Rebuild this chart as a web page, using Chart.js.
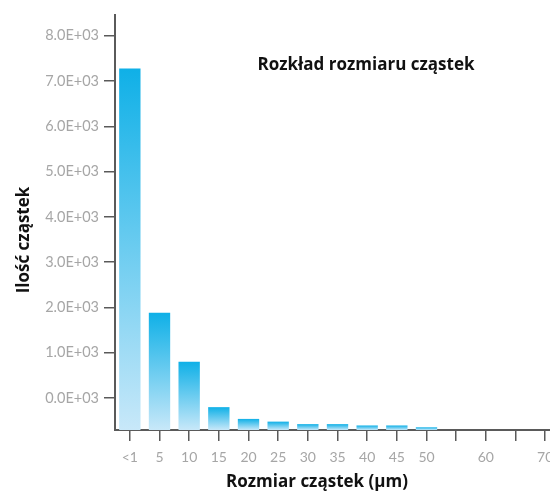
<!DOCTYPE html>
<html>
<head>
<meta charset="utf-8">
<script src="https://cdn.jsdelivr.net/npm/chart.js@4.4.1/dist/chart.umd.min.js"></script>
<style>
  html, body { margin: 0; padding: 0; background: #fff; overflow: hidden; }
  #wrap { position: relative; width: 550px; height: 493px; overflow: hidden; }
  #wrap canvas { position: absolute; left: 0; top: 0; }
</style>
</head>
<body>
<div id="wrap"><canvas id="chart" width="570" height="493"></canvas></div>
<script>
// dane
const categories = ['<1', '5', '10', '15', '20', '25', '30', '35', '40', '45', '50', '55', '60', '65', '70'];
const tickLabels = ['<1', '5', '10', '15', '20', '25', '30', '35', '40', '45', '50', '', '60', '', '70'];
const counts = [7280, 1880, 800, -205, -465, -525, -580, -580, -610, -610, -650, null, null, null, null];
const yTicks = [0, 1000, 2000, 3000, 4000, 5000, 6000, 7000, 8000];
const yMin = -710;
const yMax = 8460;

const chartTitle = 'Rozkład rozmiaru cząstek';
const xTitle = 'Rozmiar cząstek (µm)';
const yTitle = 'Ilość cząstek';

// gradient dla kazdego slupka osobno: ciemny u gory, jasny u dolu
function barGradient(ctx) {
    const chart = ctx.chart;
    const y = chart.scales.y;
    if (!chart.chartArea || !y || ctx.raw == null) return '#1ab0e6';
    const top = y.getPixelForValue(ctx.raw);
    const bottom = y.getPixelForValue(yMin);
    if (!isFinite(top) || bottom - top < 1) return '#1ab0e6';
    const g = chart.ctx.createLinearGradient(0, top, 0, bottom);
    g.addColorStop(0, '#0fb0e7');
    g.addColorStop(1, '#c8e8f9');
    return g;
}

// tytul wykresu i opisy osi rysowane recznie (pozycje jak na oryginale)
const titlesPlugin = {
    id: 'titles',
    afterDraw(chart) {
        const c = chart.ctx;
        c.save();
        c.font = 'bold 17px "Open Sans"';
        c.fillStyle = '#111';
        c.textAlign = 'center';
        c.textBaseline = 'middle';
        c.fillText(chartTitle, 366, 65);
        c.fillText(xTitle, 317, 482);
        c.translate(24, 240);
        c.rotate(-Math.PI / 2);
        c.fillText(yTitle, 0, 0);
        c.restore();
    }
};

new Chart(document.getElementById('chart'), {
    type: 'bar',
    data: {
        labels: categories,
        datasets: [{
            data: counts,
            base: yMin,
            backgroundColor: barGradient,
            borderWidth: 0,
            barPercentage: 0.72,
            categoryPercentage: 1.0
        }]
    },
    options: {
        responsive: false,
        animation: false,
        layout: { padding: { top: 15, left: 0, right: 10, bottom: 0 } },
        plugins: {
            legend: { display: false },
            tooltip: { enabled: false }
        },
        scales: {
            x: {
                offset: true,
                border: { display: true, color: '#5a5a5a', width: 2 },
                grid: { display: true, drawOnChartArea: false, offset: false, color: '#5a5a5a', lineWidth: 1.5, tickLength: 11 },
                ticks: {
                    autoSkip: false,
                    maxRotation: 0,
                    padding: 8,
                    color: '#a6a6a6',
                    font: { family: 'Lato', size: 14 },
                    callback: (v, i) => tickLabels[i]
                },
                afterFit: s => { s.height = 63; }
            },
            y: {
                min: yMin,
                max: yMax,
                afterBuildTicks: axis => { axis.ticks = yTicks.map(v => ({ value: v })); },
                border: { display: true, color: '#5a5a5a', width: 2 },
                grid: { display: true, drawOnChartArea: false, color: '#5a5a5a', lineWidth: 1.5, tickLength: 11 },
                ticks: {
                    padding: 5,
                    color: '#a6a6a6',
                    font: { family: 'Lato', size: 14.5 },
                    callback: v => (v / 1000).toFixed(1) + 'E+03'
                },
                afterFit: s => { s.width = 115; }
            }
        }
    },
    plugins: [titlesPlugin]
});
</script>
</body>
</html>
